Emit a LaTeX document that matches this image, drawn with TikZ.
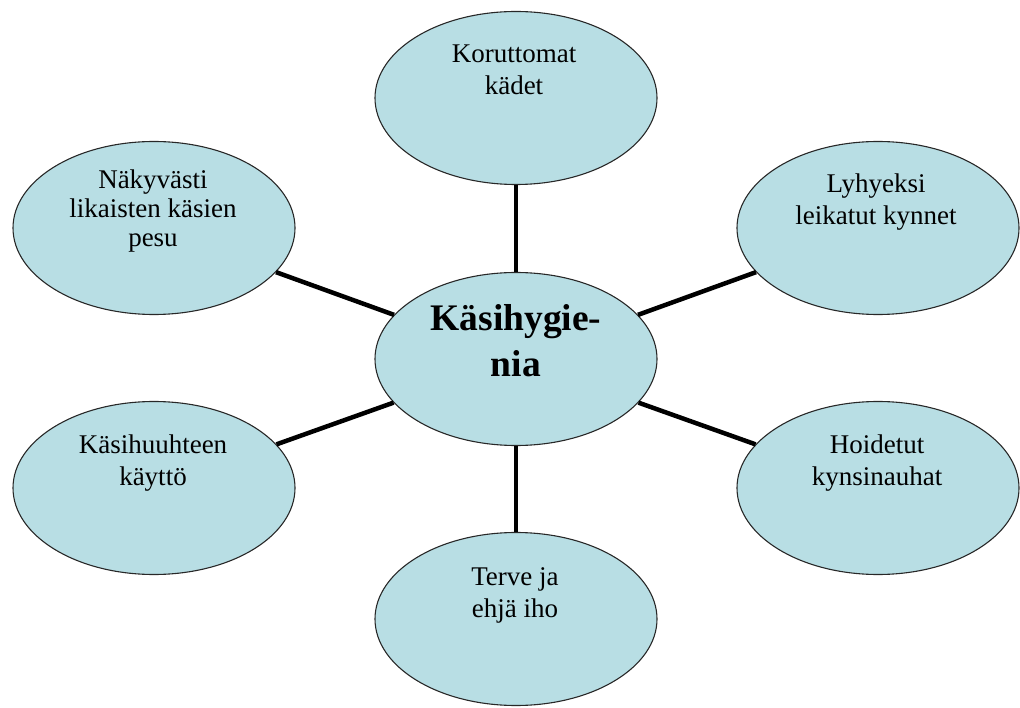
\documentclass[tikz,border=0pt]{standalone}
\usepackage{fontspec}
\setmainfont{Liberation Serif}
\usetikzlibrary{shapes.geometric}
\definecolor{bubble}{RGB}{184,222,228}
\definecolor{rim}{RGB}{40,40,40}
\tikzset{
  bubble/.style={ellipse, draw=rim, line width=1.1pt, fill=bubble,
    minimum width=282pt, minimum height=173pt, inner sep=0pt},
  lbl/.style={align=center, inner sep=0pt, anchor=base,
    font=\fontsize{27}{32}\selectfont},
  hub/.style={align=center, inner sep=0pt, anchor=base,
    font=\bfseries\fontsize{37.5}{46}\selectfont},
  spoke/.style={draw=black, line width=4.5pt}
}
\begin{document}
\begin{tikzpicture}[x=1pt, y=-1pt]
  \useasboundingbox (0,0) rectangle (1020,708);

  % outer bubbles and hub
  \node[bubble] (top) at (516,98) {};
  \node[bubble] (ul)  at (154,228) {};
  \node[bubble] (ur)  at (878,228) {};
  \node[bubble] (hub) at (516,359) {};
  \node[bubble] (ll)  at (154,488) {};
  \node[bubble] (lr)  at (878,488) {};
  \node[bubble] (bot) at (516,619) {};

  % spokes from the hub to each bubble
  \foreach \n in {top,ul,ur,ll,lr,bot}
    \draw[spoke] (hub) -- (\n);

  % texts (anchored at the baseline of the last line)
  \node[lbl] (ttop) at (514,95) {Koruttomat\\kädet};
  \node[lbl, font=\fontsize{27}{29}\selectfont] (tul) at (153,247) {Näkyvästi\\likaisten käsien\\pesu};
  \node[lbl] (tur) at (876,225) {Lyhyeksi\\leikatut kynnet};
  \node[hub] (thub) at (516,377) {Käsihygie-\\nia};
  \node[lbl] (tll) at (153,485) {Käsihuuhteen\\käyttö};
  \node[lbl] (tlr) at (877,485) {Hoidetut\\kynsinauhat};
  \node[lbl] (tbot) at (515,617) {Terve ja\\ehjä iho};
\end{tikzpicture}
\end{document}
